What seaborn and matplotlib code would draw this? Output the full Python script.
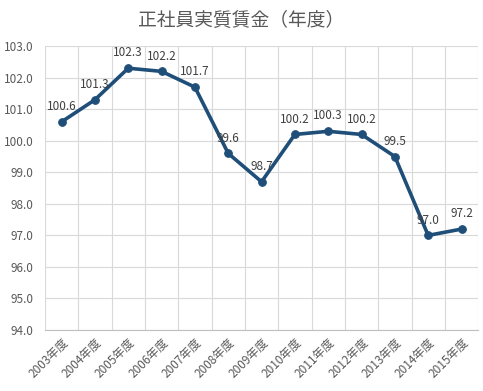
import numpy as np
import pandas as pd
import matplotlib
matplotlib.use("Agg")
import matplotlib.pyplot as plt
import seaborn as sns

# データ
years = ["2003年度", "2004年度", "2005年度", "2006年度", "2007年度", "2008年度", "2009年度",
         "2010年度", "2011年度", "2012年度", "2013年度", "2014年度", "2015年度"]
wages = [100.6, 101.3, 102.3, 102.2, 101.7, 99.6, 98.7, 100.2, 100.3, 100.2, 99.5, 97.0, 97.2]

df = pd.DataFrame({"年度": years, "賃金": wages})
df["x"] = np.arange(len(df))

sns.set_style("white")
plt.rcParams['font.family'] = ['Noto Sans CJK JP', 'DejaVu Sans']

fig = plt.figure(figsize=(4.83, 3.91), dpi=100)
ax = fig.add_axes([0.093, 0.156, 0.897, 0.726])

sns.lineplot(data=df, x="x", y="賃金", ax=ax, color="#1F4E79", linewidth=2.6,
             marker="o", markersize=5.5, markeredgecolor="#1F4E79")

# データラベル
for xi, v in zip(df["x"], df["賃金"]):
    ax.text(xi, v + 0.28, f"{v:.1f}", ha="center", va="bottom", fontsize=8.5, color="#404040")

ax.set_xlim(-0.5, len(years) - 0.5)
ax.set_ylim(94, 103)
ax.set_yticks(np.arange(94, 103.5, 1))
ax.set_yticklabels([f"{t:.1f}" for t in np.arange(94, 103.5, 1)])
ax.set_xticks(df["x"])
ax.set_xticklabels(years, rotation=45, ha="right", rotation_mode="anchor")
ax.set_xticks(np.arange(-0.5, len(years), 1), minor=True)

ax.grid(axis="y", which="major", color="#D9D9D9", linewidth=0.8)
ax.grid(axis="x", which="minor", color="#D9D9D9", linewidth=0.8)
ax.tick_params(axis="both", which="both", length=0, colors="#595959", labelsize=8.5)
ax.tick_params(axis="x", pad=4)
ax.tick_params(axis="y", pad=8)
for s in ["top", "right", "left"]:
    ax.spines[s].set_visible(False)
ax.spines["bottom"].set_color("#BFBFBF")
ax.set_axisbelow(True)
ax.set_xlabel("")
ax.set_ylabel("")

fig.suptitle("正社員実質賃金（年度）", y=0.975, fontsize=13.5, color="#595959")

fig.savefig("out.png", dpi=100)
